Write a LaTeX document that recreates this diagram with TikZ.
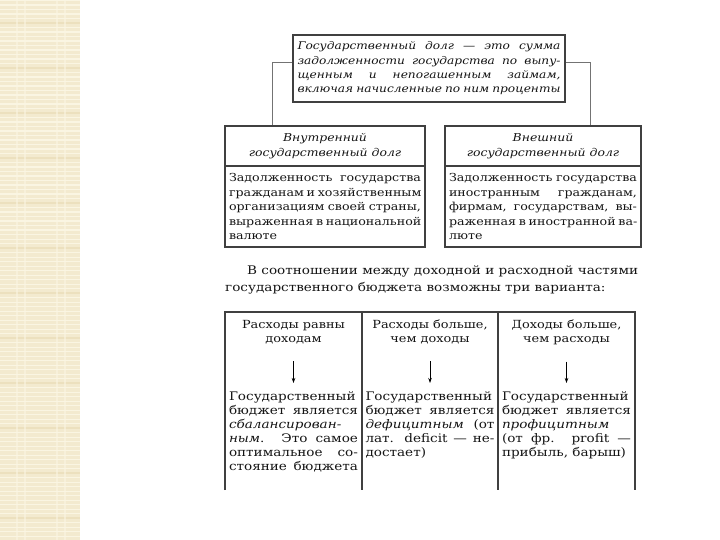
\documentclass[tikz,border=0pt]{standalone}
\usepackage{fontspec}
\setmainfont{DejaVu Serif}[FakeStretch=1.15]
\usetikzlibrary{arrows.meta}
\newcommand{\jl}[2]{\makebox[#1pt][s]{#2}}
\newcommand{\lft}[2]{\makebox[#1pt][l]{#2}}
\definecolor{stripbase}{RGB}{243,234,207}
\definecolor{stripline}{RGB}{250,245,226}
\definecolor{stripdark}{RGB}{236,224,190}
\definecolor{ink}{RGB}{20,20,20}
\tikzset{
  frame/.style={draw=black!75, line width=1.2pt, inner sep=0pt},
  conn/.style={draw=black!55, line width=0.7pt},
  txt/.style={inner sep=0pt, align=left, text=ink, font=\fontsize{11}{14.5}\selectfont},
  headtxt/.style={inner sep=0pt, align=center, text=ink, font=\fontsize{10.8}{14.8}\selectfont\itshape},
  colhead/.style={inner sep=0pt, align=center, text=ink, font=\fontsize{11.2}{14}\selectfont},
  coltxt/.style={inner sep=0pt, align=left, text=ink, anchor=north, font=\fontsize{11.8}{14}\selectfont},
  arr/.style={draw=black, line width=0.7pt, -{Stealth[length=5pt,width=3.5pt]}}
}
\begin{document}
\begin{tikzpicture}[x=1pt,y=-1pt]
\useasboundingbox (0,0) rectangle (720,540);
% decorative strip
\fill[stripbase] (0,0) rectangle (80,540);
\foreach \yy in {0,4.5,...,540} {\fill[stripline] (0,\yy) rectangle (80,\yy+1.2);}
\foreach \yy in {22,67,112,157,202,247,292,337,382,427,472,517} {\fill[stripdark] (0,\yy) rectangle (80,\yy+2);}
\foreach \xx in {16,24,56,64} {\fill[stripline,opacity=0.6] (\xx,0) rectangle (\xx+1.5,540);}

% top definition box
\node[frame, minimum width=272pt, minimum height=67pt, txt, font=\fontsize{10.6}{14.3}\selectfont\itshape] (top) at (429,68.5)
 {\jl{263}{Государственный долг — это сумма}\\
  \jl{263}{задолженности государства по выпу-}\\
  \jl{263}{щенным и непогашенным займам,}\\
  \jl{263}{включая начисленные по ним проценты}};

% left box
\node[frame, minimum width=200pt, minimum height=40pt, headtxt] (lh) at (325,146)
 {Внутренний\\государственный долг};
\node[frame, minimum width=200pt, minimum height=81pt, txt] (lb) at (325,206.5)
 {\jl{192}{Задолженность государства}\\
  \jl{192}{гражданам и хозяйственным}\\
  \jl{192}{организациям своей страны,}\\
  \jl{192}{выраженная в национальной}\\
  \lft{192}{валюте}};

% right box
\node[frame, minimum width=196pt, minimum height=40pt, headtxt] (rh) at (543,146)
 {Внешний\\государственный долг};
\node[frame, minimum width=196pt, minimum height=81pt, txt] (rb) at (543,206.5)
 {\jl{188}{Задолженность государства}\\
  \jl{188}{иностранным гражданам,}\\
  \jl{188}{фирмам, государствам, вы-}\\
  \jl{188}{раженная в иностранной ва-}\\
  \lft{188}{люте}};

% connectors
\draw[conn] ([yshift=6.5pt]top.west) -| ([xshift=-53pt]lh.north);
\draw[conn] ([yshift=6.5pt]top.east) -| ([xshift=47pt]rh.north);

% paragraph
\node[inner sep=0pt, anchor=north west, align=left, text=ink, font=\fontsize{11.8}{17}\selectfont] (par) at (225,265)
 {\hspace*{22pt}В соотношении между доходной и расходной частями\\
  государственного бюджета возможны три варианта:};

% table frame
\draw[black!75, line width=1.2pt] (225,490) -- (225,312) -- (635,312) -- (635,490);
\draw[black!75, line width=1.2pt] (362,312) -- (362,490);
\draw[black!75, line width=1.2pt] (498,312) -- (498,490);

% column headings
\node[colhead] (h1) at (293.5,332) {Расходы равны\\доходам};
\node[colhead] (h2) at (430,332) {Расходы больше,\\чем доходы};
\node[colhead] (h3) at (566.5,332) {Доходы больше,\\чем расходы};

% column bodies
\node[coltxt] (b1) at (293.5,391)
 {\jl{129}{Государственный}\\
  \jl{129}{бюджет является}\\
  \lft{129}{\textit{сбалансирован-}}\\
  \jl{129}{\textit{ным}. Это самое}\\
  \jl{129}{оптимальное со-}\\
  \jl{129}{стояние бюджета}};
\node[coltxt] (b2) at (430,391)
 {\jl{129}{Государственный}\\
  \jl{129}{бюджет является}\\
  \jl{129}{\textit{дефицитным} (от}\\
  \jl{129}{лат. deficit — не-}\\
  \lft{129}{достает)}};
\node[coltxt] (b3) at (566.5,391)
 {\jl{129}{Государственный}\\
  \jl{129}{бюджет является}\\
  \lft{129}{\textit{профицитным}}\\
  \jl{129}{(от фр. profit —}\\
  \lft{129}{прибыль, барыш)}};

% arrows
\draw[arr, shorten <=17pt, shorten >=8pt] (h1) -- (b1);
\draw[arr, shorten <=17pt, shorten >=8pt] (h2) -- (b2);
\draw[arr, shorten <=17pt, shorten >=8pt] (h3) -- (b3);
\end{tikzpicture}
\end{document}
